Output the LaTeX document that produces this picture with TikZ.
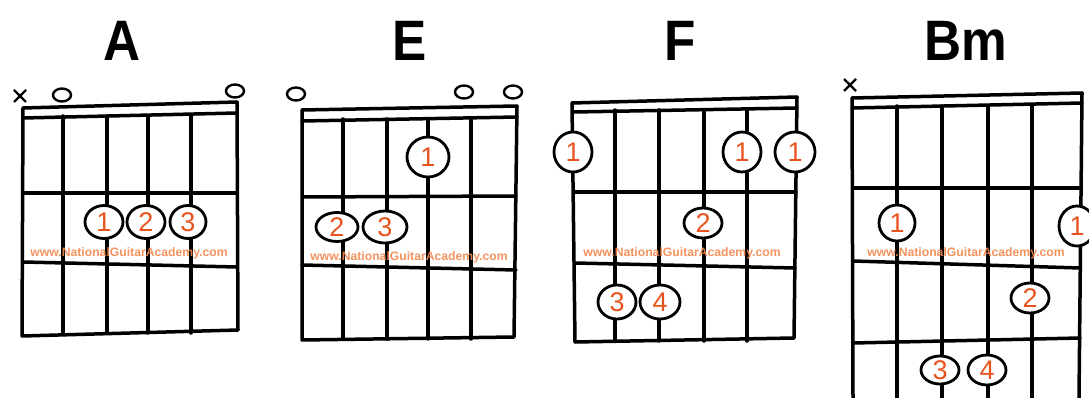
\documentclass[tikz,border=0pt]{standalone}
\usepackage{fontspec}
\setmainfont{Liberation Sans}
\newfontfamily\chordfont[FakeStretch=0.9]{Liberation Sans}
\usetikzlibrary{shapes.geometric}
\definecolor{fingorange}{HTML}{E8531E}
\definecolor{markorange}{HTML}{F2874E}

\begin{document}
\begin{tikzpicture}[x=1pt,y=-1pt,
    grid/.style={line width=3.5pt,line cap=round,line join=round},
    open/.style={line width=2.4pt},
    finger/.style={ellipse,draw,line width=2.8pt,fill=white,inner sep=0pt,text=fingorange,font=\fontsize{27}{27}\selectfont},
    chord/.style={font=\chordfont\bfseries\fontsize{57}{57}\selectfont,inner sep=0pt},
    wmark/.style={text=markorange,text opacity=.9,font=\bfseries\fontsize{12.2}{12.2}\selectfont,inner sep=0pt}]
      \useasboundingbox (0,0) rectangle (1089,398);
      \node[chord] (tA) at (122,41) {A};
      \node[chord] (tE) at (410,41) {E};
      \node[chord] (tF) at (680,41) {F};
      \node[chord] (tBm) at (966,41) {Bm};
      \draw[grid] (23,108) -- (237,102);
      \draw[grid] (23,118) -- (237,113);
      \draw[grid] (23,108) -- (22,336) -- (238,330) -- (237,102);
      \draw[grid] (23,193) -- (237,193);
      \draw[grid] (23,262) -- (237,267);
      \foreach \x in {63,107,148,191} \draw[grid] (\x,116) -- (\x,333);
      \draw[open] (14,90) -- (26,102) (14,102) -- (26,90);
      \draw[open] (62,95) ellipse (9 and 6.5);
      \draw[open] (235,91) ellipse (9 and 6.5);
      \node[wmark] (wA) at (129,253) {www.NationalGuitarAcademy.com};
      \node[finger,minimum width=38pt,minimum height=33pt] (A1) at (104,222) {1};
      \node[finger,minimum width=38pt,minimum height=33pt] (A2) at (146,222) {2};
      \node[finger,minimum width=36pt,minimum height=33pt] (A3) at (188,222) {3};
      \draw[grid] (302,110) -- (517,106);
      \draw[grid] (302,121) -- (517,117);
      \draw[grid] (302,110) -- (302,340) -- (514,337) -- (517,106);
      \draw[grid] (302,197) -- (516,196);
      \draw[grid] (302,265) -- (516,270);
      \foreach \x in {343,387,428,471} \draw[grid] (\x,119) -- (\x,339);
      \draw[open] (296,94) ellipse (9 and 6.5);
      \draw[open] (464,92) ellipse (9 and 6.5);
      \draw[open] (513,92) ellipse (9 and 6.5);
      \node[wmark] (wE) at (409,257) {www.NationalGuitarAcademy.com};
      \node[finger,minimum width=42pt,minimum height=40pt] (E1) at (428,157) {1};
      \node[finger,minimum width=42pt,minimum height=29pt] (E2) at (337,227) {2};
      \node[finger,minimum width=44pt,minimum height=32pt] (E3) at (385,227) {3};
      \draw[grid] (572,103) -- (797,97);
      \draw[grid] (574,112) -- (797,108);
      \draw[grid] (572,103) -- (575,342) -- (794,338) -- (797,97);
      \draw[grid] (575,192) -- (796,192);
      \draw[grid] (575,263) -- (795,268);
      \foreach \x in {615,659,704,747} \draw[grid] (\x,110) -- (\x,341);
      \node[wmark] (wF) at (682,253) {www.NationalGuitarAcademy.com};
      \node[finger,minimum width=38pt,minimum height=40pt] (F1a) at (573,152) {1};
      \node[finger,minimum width=38pt,minimum height=40pt] (F1b) at (742,152) {1};
      \node[finger,minimum width=40pt,minimum height=40pt] (F1c) at (795,152) {1};
      \node[finger,minimum width=38pt,minimum height=30pt] (F2) at (703,223) {2};
      \node[finger,minimum width=38pt,minimum height=34pt] (F3) at (617,302) {3};
      \node[finger,minimum width=40pt,minimum height=34pt] (F4) at (660,302) {4};
      \draw[grid] (852,98) -- (1082,93);
      \draw[grid] (852,108) -- (1082,103);
      \draw[grid] (852,98) -- (853,398);
      \draw[grid] (1082,93) -- (1079,398);
      \draw[grid] (853,188) -- (1080,188);
      \draw[grid] (853,261) -- (1080,268);
      \draw[grid] (853,343) -- (1080,338);
      \foreach \x in {897,942,988,1032} \draw[grid] (\x,106) -- (\x,398);
      \draw[open] (844,79) -- (856,91) (844,91) -- (856,79);
      \node[wmark] (wBm) at (966,253) {www.NationalGuitarAcademy.com};
      \node[finger,minimum width=36pt,minimum height=36pt] (B1a) at (897,223) {1};
      \node[finger,minimum width=36pt,minimum height=40pt] (B1b) at (1077,226) {1};
      \node[finger,minimum width=38pt,minimum height=30pt] (B2) at (1030,298) {2};
      \node[finger,minimum width=38pt,minimum height=28pt] (B3) at (940,370) {3};
      \node[finger,minimum width=38pt,minimum height=30pt] (B4) at (987,370) {4};
    \end{tikzpicture}
\end{document}
